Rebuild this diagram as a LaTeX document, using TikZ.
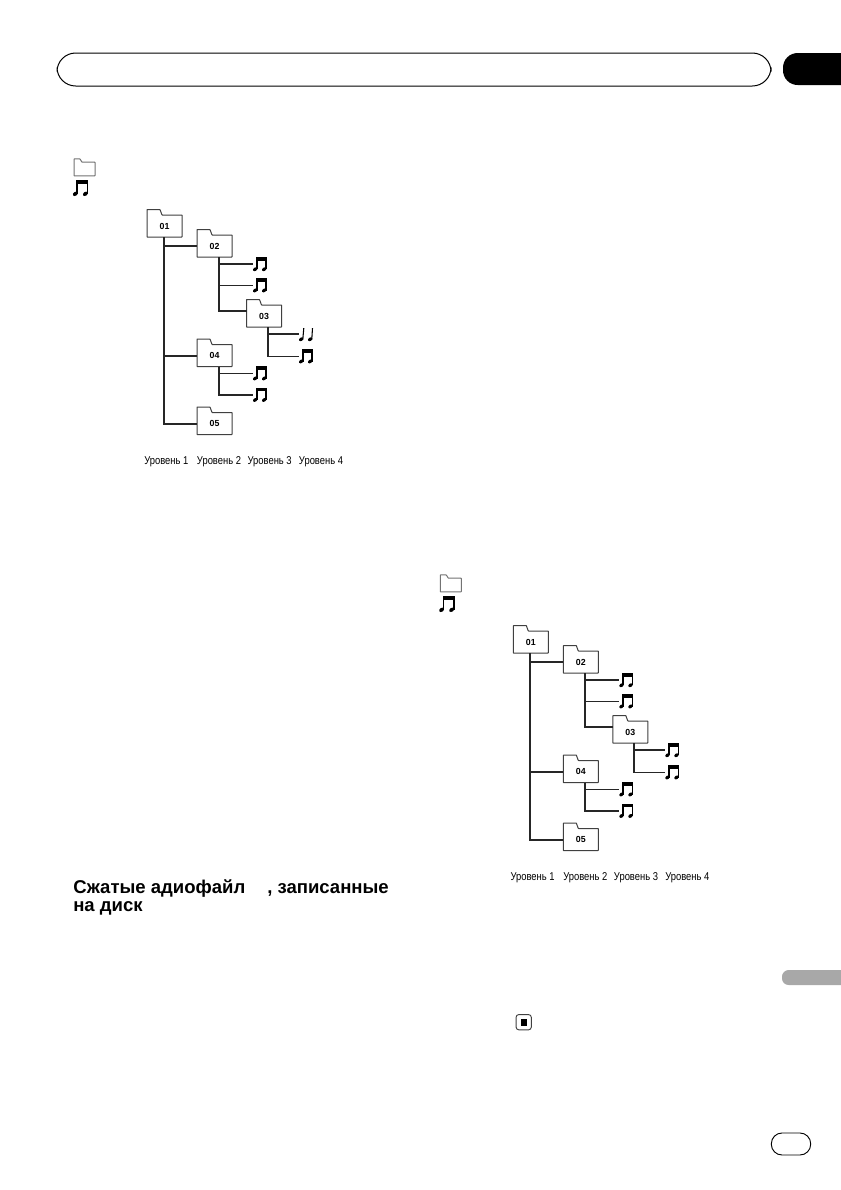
\documentclass[tikz,border=0pt]{standalone}
\usepackage{fontspec}
\setmainfont{Liberation Sans}
\newfontfamily\levelfont[FakeStretch=0.83]{Liberation Sans}
\usetikzlibrary{positioning}
\definecolor{edgegray}{gray}{0.25}
\definecolor{sidegray}{gray}{0.66}
\definecolor{keygray}{gray}{0.45}
\newcommand{\tunehead}{%
  \fill[rotate around={35:(2.2,12.2)}] (2.2,12.2) ellipse (2.4 and 1.7);
  \fill[rotate around={35:(11.2,12.2)}] (11.2,12.2) ellipse (2.4 and 1.7);}
\newcommand{\tunemark}[2][1]{\begin{scope}[shift={(#2.north west)},scale=#1]
  \tunehead
  \fill (3.1,0) rectangle (13.9,3.6);
  \fill (3.1,0) rectangle (4.5,12.3);
  \fill (12.4,0) rectangle (13.8,12.3);
  \end{scope}}
\newcommand{\halfmark}[1]{\begin{scope}[shift={(#1.north west)}]
  \tunehead
  \draw[line width=0.8pt] (3.8,12.3) -- (4.8,1);
  \draw[line width=0.8pt] (12.8,12.3) -- (13.5,1);
  \end{scope}}
\newcommand{\foldertab}[4][edgegray]{\draw[tabline,draw=#1] (#2.south west) -- (#2.north west) -- ++(0,-#3)
  -- ++(#4,0) -- ++(2,#3) -- (#2.north east) -- (#2.south east) -- cycle;}
\begin{document}
\begin{tikzpicture}[x=0.75pt,y=-0.75pt,
  folder/.style={rectangle,inner sep=0pt,outer sep=0pt,
    minimum width=26.25pt,minimum height=16.5pt,font=\bfseries\fontsize{6.6}{7}\selectfont},
  keyfolder/.style={folder,minimum width=15.75pt,minimum height=10.2pt},
  tabline/.style={line width=0.75pt,rounded corners=0.3pt},
  wire/.style={draw=black!85,line width=1.3pt},
  level/.style={font=\levelfont\fontsize{8.5}{9}\selectfont,inner sep=0pt},
  tunebox/.style={inner sep=0pt,outer sep=0pt,minimum width=10.5pt,minimum height=10.9pt}]
\useasboundingbox (0,0) rectangle (840,1190);
\fill[white] (0,0) rectangle (840,1190);
\node[draw,line width=0.75pt,rounded corners=14pt,inner sep=0pt,minimum width=535.5pt,minimum height=24.75pt] (header) at (414,69.5) {};
\node[fill=black,rounded corners=11pt,inner sep=0pt,minimum width=60pt,minimum height=24pt] (chapter) at (823,69) {};
\node[fill=sidegray,rounded corners=5pt,inner sep=0pt,minimum width=60pt,minimum height=11.25pt] (section) at (822,977.5) {};
\node[draw,line width=0.7pt,rounded corners=8pt,inner sep=0pt,minimum width=29.5pt,minimum height=16.5pt] (pageno) at (791,1144) {};
\foreach \pre/\sx/\sy/\thirdmark in {a/0/0/\halfmark,b/366.3/416/\tunemark}{
\begin{scope}[shift={(\sx,\sy)},name prefix=\pre-]
\node[keyfolder] (key) at (84.5,169) {};
\foldertab[keygray]{key}{3.3}{6}
\node[tunebox,minimum width=11.5pt,minimum height=12.5pt] (keytune) at (80.5,188.5) {};
\tunemark[1.12]{keytune}
\node[folder] (f01) at (164.5,226) {01};
\node[folder] (f02) at (214.5,246) {02};
\node[folder] (f03) at (264,316) {03};
\node[folder] (f04) at (214.5,355.5) {04};
\node[folder] (f05) at (214.5,423.5) {05};
\foldertab{f01}{5.5}{13}
\foldertab{f02}{5.5}{13}
\foldertab{f03}{5.5}{13}
\foldertab{f04}{5.5}{13}
\foldertab{f05}{5.5}{13}
\node[tunebox] (n1) at (260,264.3) {};
\node[tunebox] (n2) at (260,285.5) {};
\node[tunebox] (n3) at (306,334.3) {};
\node[tunebox] (n4) at (306,356.5) {};
\node[tunebox] (n5) at (260,373.5) {};
\node[tunebox] (n6) at (260,395) {};
\tunemark{n1}
\tunemark{n2}
\thirdmark{n3}
\tunemark{n4}
\tunemark{n5}
\tunemark{n6}
\draw[wire] ([xshift=-0.6pt]f01.south) |- ([yshift=-0.4pt]f05.west);
\draw[wire] ([xshift=-0.6pt]f01.south) |- (f02.west);
\draw[wire] ([xshift=-0.6pt]f01.south) |- ([yshift=-0.4pt]f04.west);
\draw[wire] ([xshift=3.15pt]f02.south) |- ([yshift=3.75pt]f03.west);
\draw[wire] ([xshift=3.15pt]f02.south) |- (n1.west);
\draw[wire] ([xshift=3.15pt]f02.south) |- (n2.west);
\draw[wire] ([xshift=3pt]f03.south) |- (n3.west);
\draw[wire] ([xshift=3pt]f03.south) |- (n4.west);
\draw[wire] ([xshift=3.15pt]f04.south) |- (n5.west);
\draw[wire] ([xshift=3.15pt]f04.south) |- (n6.west);
\node[level] (l1) at (166.3,462) {Уровень 1};
\node[level] (l2) at (219,462) {Уровень 2};
\node[level] (l3) at (269.7,462) {Уровень 3};
\node[level] (l4) at (321,462) {Уровень 4};
\end{scope}}
\node[anchor=north west,align=left,inner sep=0pt,font=\bfseries\fontsize{13.9}{13.2}\selectfont] (title) at (73,879.5) {Сжатые адиофайл\hspace{1.18em}, записанные\\на диск};
\node[draw=edgegray,line width=0.7pt,rounded corners=2pt,inner sep=0pt,minimum size=11.4pt] (endbox) at (523.7,1022.2) {};
\node[fill=black,inner sep=0pt,minimum size=4.6pt] (endmark) at (523.7,1022.5) {};
\end{tikzpicture}
\end{document}
